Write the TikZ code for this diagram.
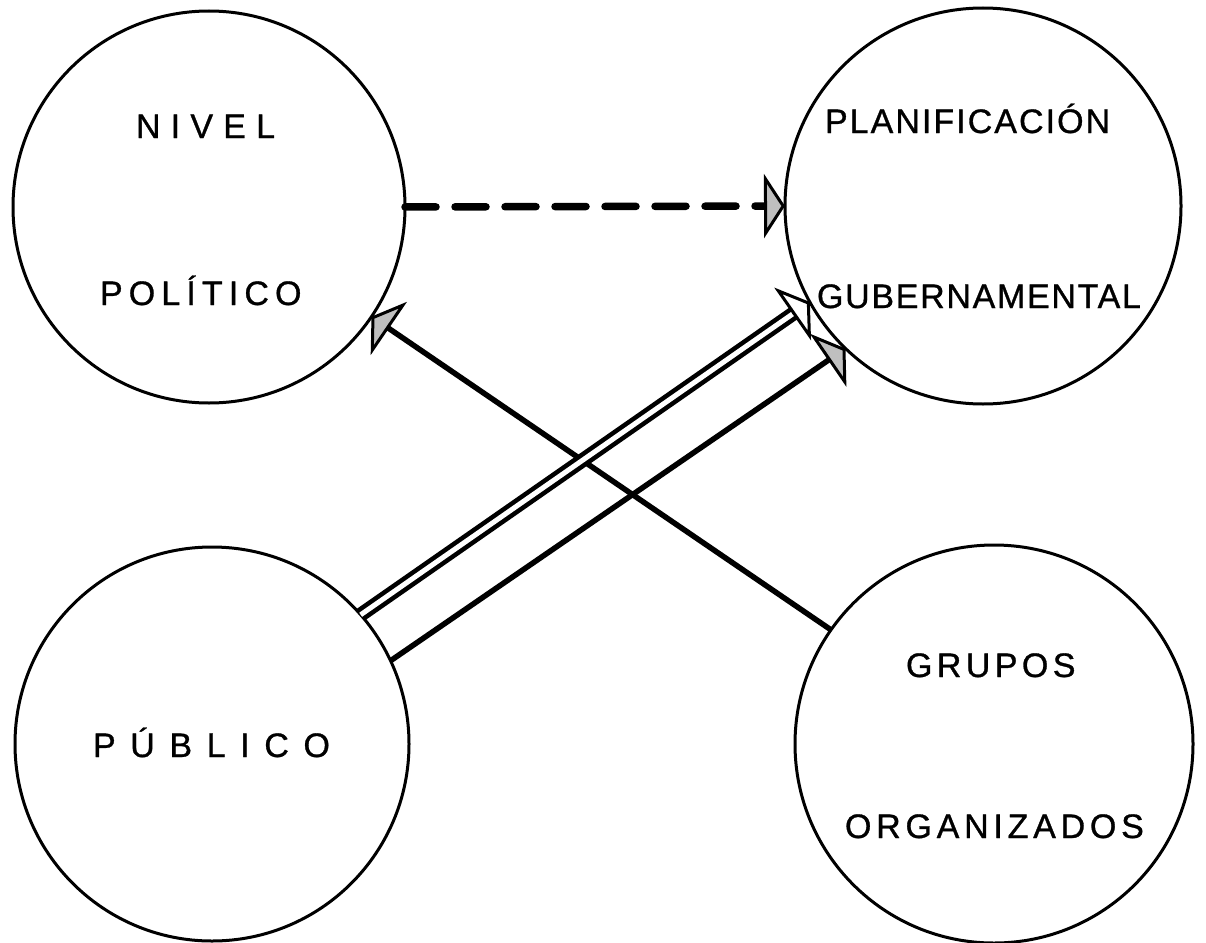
\documentclass[tikz,border=0pt]{standalone}
\usepackage{fontspec}
\setmainfont{Liberation Sans}
\newfontfamily\lblfont{Liberation Sans}[BoldFont={Liberation Sans},BoldFeatures={FakeBold=0.9}]
\usetikzlibrary{arrows.meta,calc}
\newcommand{\spaced}[2]{{\addfontfeature{LetterSpace=#1}#2}}
\begin{document}
\begin{tikzpicture}[x=1pt,y=-1pt,
  circ/.style={circle,draw,line width=3pt,minimum size=#1,inner sep=0pt,outer sep=0pt},
  lbl/.style={anchor=base west,inner sep=0pt,outer sep=0pt,font=\fontsize{34}{40}\lblfont\bfseries},
  conn/.style={line width=5.5pt},
  dashc/.style={line width=7.5pt,dash pattern=on 31pt off 19pt,line cap=round},
  dbl/.style={double,double distance=5pt,line width=4.6pt},
  ftip/.style={-{Triangle[length=21pt,width=64pt,fill=gray!50,line width=3pt]}},
  otip/.style={line width=2pt,-{Triangle[open,length=21pt,width=64pt,line width=3pt]}}
]
\useasboundingbox (0,0) rectangle (1206,942);

% circles
\node[circ=392pt] (niv) at (209,207) {};
\node[circ=396pt] (pla) at (983,206) {};
\node[circ=394pt] (pub) at (212,744) {};
\node[circ=398pt] (gru) at (994,744) {};

% labels
\node[lbl] (nivA) at (136,138) {\spaced{30}{NIVEL}};
\node[lbl] (nivB) at (100,305) {\spaced{18}{POLÍTICO}};
\node[lbl] (plaA) at (825,133) {\spaced{6}{PLANIFICACIÓN}};
\node[lbl] (plaB) at (817,308) {\spaced{5}{GUBERNAMENTAL}};
\node[lbl] (pubA) at (93,757) {\spaced{43}{PÚBLICO}};
\node[lbl] (gruA) at (906,677) {\spaced{13}{GRUPOS}};
\node[lbl] (gruB) at (845,838) {\spaced{14}{ORGANIZADOS}};

% connectors
\draw[dashc,ftip] (niv.0) -- (pla.180);
\draw[conn,ftip] (gru.145.5) -- (niv.326);
\draw[conn,ftip] (pub.25) -- (pla.226.4);
\draw[dbl,shorten >=20pt] (pub.41.5) -- (pla.209);
\draw[otip] ($(pla.209)!21pt!(pub.41.5)$) -- (pla.209);
\end{tikzpicture}
\end{document}
